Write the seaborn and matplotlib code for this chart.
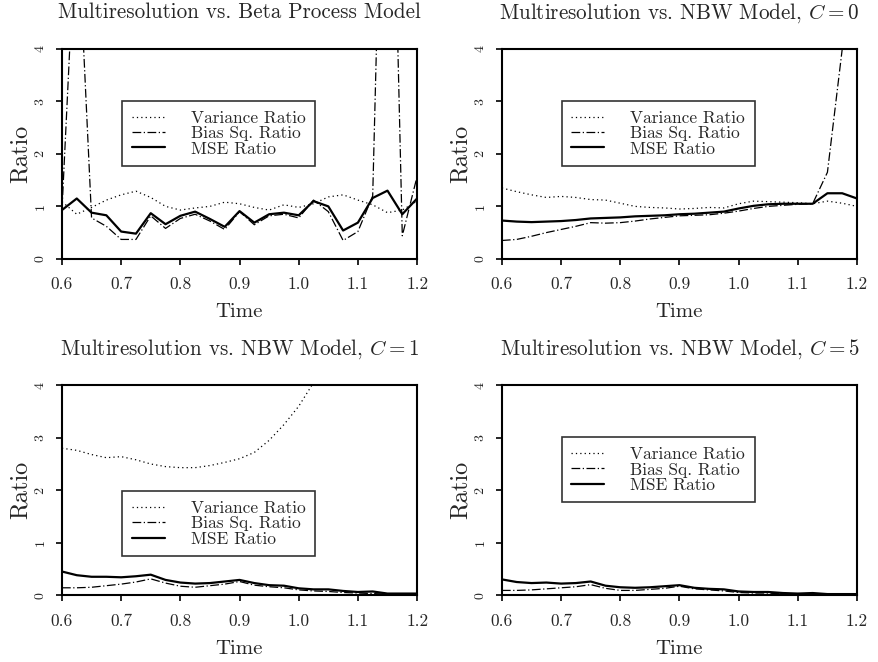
"""
Four-panel ratio plot: Multiresolution vs. Beta Process / NBW models.
Saves out.png (879x662).
"""

import matplotlib
matplotlib.use("Agg")

import matplotlib.pyplot as plt
import numpy as np
import pandas as pd
import seaborn as sns

# --- data ---
time = [0.6, 0.625, 0.65, 0.675, 0.7, 0.725, 0.75, 0.775, 0.8, 0.825, 0.85,
        0.875, 0.9, 0.925, 0.95, 0.975, 1.0, 1.025, 1.05, 1.075, 1.1, 1.125,
        1.15, 1.175, 1.2]

titles = ["Multiresolution vs. Beta Process Model",
          r"Multiresolution vs. NBW Model, $C=0$",
          r"Multiresolution vs. NBW Model, $C=1$",
          r"Multiresolution vs. NBW Model, $C=5$"]

var_beta = [1.09, 0.85, 0.98, 1.12, 1.22, 1.29, 1.17, 1.00, 0.93, 0.97, 1.00,
            1.08, 1.05, 0.98, 0.93, 1.03, 0.98, 1.05, 1.18, 1.22, 1.12, 1.03,
            0.88, 0.93, 1.10]
bias_beta = [0.93, 6.8, 0.78, 0.62, 0.37, 0.37, 0.82, 0.58, 0.77, 0.85, 0.72,
             0.56, 0.90, 0.65, 0.82, 0.85, 0.78, 1.12, 0.90, 0.35, 0.52, 1.20,
             12.4, 0.44, 1.57]
mse_beta = [0.93, 1.15, 0.88, 0.83, 0.52, 0.48, 0.87, 0.66, 0.82, 0.90, 0.76,
            0.61, 0.91, 0.69, 0.85, 0.88, 0.83, 1.10, 1.00, 0.54, 0.69, 1.16,
            1.30, 0.85, 1.15]

var_c0 = [1.35, 1.28, 1.22, 1.17, 1.19, 1.17, 1.13, 1.12, 1.06, 1.00, 0.98,
          0.97, 0.95, 0.96, 0.98, 0.97, 1.05, 1.10, 1.09, 1.08, 1.07, 1.05,
          1.10, 1.06, 1.00]
bias_c0 = [0.35, 0.37, 0.43, 0.50, 0.56, 0.62, 0.69, 0.68, 0.69, 0.72, 0.76,
           0.79, 0.82, 0.83, 0.84, 0.87, 0.91, 0.96, 1.00, 1.02, 1.04, 1.05,
           1.65, 4.00, 6.00]
mse_c0 = [0.73, 0.71, 0.70, 0.71, 0.72, 0.74, 0.77, 0.78, 0.79, 0.81, 0.82,
          0.83, 0.85, 0.86, 0.88, 0.90, 0.96, 1.01, 1.04, 1.05, 1.05, 1.05,
          1.25, 1.25, 1.15]

var_c1 = [2.80, 2.76, 2.68, 2.62, 2.64, 2.58, 2.50, 2.45, 2.43, 2.43, 2.47,
          2.53, 2.60, 2.72, 2.95, 3.25, 3.60, 4.05, 4.80, 5.60, 6.50, 7.40,
          8.40, 9.50, 10.5]
bias_c1 = [0.14, 0.14, 0.15, 0.18, 0.21, 0.25, 0.31, 0.23, 0.17, 0.15, 0.18,
           0.21, 0.26, 0.19, 0.16, 0.14, 0.10, 0.08, 0.07, 0.05, 0.04, 0.03,
           0.02, 0.01, 0.01]
mse_c1 = [0.45, 0.38, 0.35, 0.35, 0.34, 0.36, 0.39, 0.29, 0.24, 0.22, 0.23,
          0.26, 0.29, 0.23, 0.19, 0.18, 0.13, 0.11, 0.11, 0.08, 0.06, 0.07,
          0.03, 0.03, 0.03]

var_c5 = [5.6, 5.3, 5.0, 4.7, 4.5, 4.3, 4.15, 4.05, 4.01, 4.05, 4.2,
          4.4, 4.7, 5.1, 5.6, 6.2, 7.0, 8.0, 9.0, 10.0, 11.0, 12.0,
          13.0, 14.0, 15.0]
bias_c5 = [0.09, 0.09, 0.10, 0.12, 0.14, 0.16, 0.20, 0.13, 0.09, 0.09, 0.11,
           0.13, 0.17, 0.12, 0.10, 0.08, 0.05, 0.04, 0.04, 0.02, 0.02, 0.01,
           0.01, 0.01, 0.01]
mse_c5 = [0.30, 0.25, 0.23, 0.24, 0.22, 0.23, 0.26, 0.18, 0.15, 0.14, 0.15,
          0.17, 0.19, 0.14, 0.12, 0.11, 0.07, 0.06, 0.06, 0.04, 0.03, 0.04,
          0.02, 0.02, 0.02]

panels = [(var_beta, bias_beta, mse_beta), (var_c0, bias_c0, mse_c0),
          (var_c1, bias_c1, mse_c1), (var_c5, bias_c5, mse_c5)]
legend_y = [0.752, 0.752, 0.495, 0.752]  # top of legend box, axes fraction

# --- style: LaTeX-like look ---
sns.set_style("ticks")
plt.rcParams["font.family"] = ["cmr10", "DejaVu Serif"]
plt.rcParams["mathtext.fontset"] = "cm"
plt.rcParams["axes.formatter.use_mathtext"] = True
plt.rcParams["axes.unicode_minus"] = False

fig = plt.figure(figsize=(8.79, 6.62), dpi=100)
boxes = [(0.0705, 0.609), (0.571, 0.609), (0.0705, 0.101), (0.571, 0.101)]

for i, (var, bias, mse) in enumerate(panels):
    ax = fig.add_axes([boxes[i][0], boxes[i][1], 0.404, 0.317])
    df = pd.DataFrame({"Time": time, "var": var, "bias": bias, "mse": mse})

    sns.lineplot(data=df, x="Time", y="var", ax=ax, color="black", lw=0.9,
                 linestyle=(0, (1, 2.5)), label="Variance Ratio")
    sns.lineplot(data=df, x="Time", y="bias", ax=ax, color="black", lw=0.9,
                 linestyle=(0, (7, 2, 1, 2)), label="Bias Sq. Ratio")
    sns.lineplot(data=df, x="Time", y="mse", ax=ax, color="black", lw=1.6,
                 label="MSE Ratio")

    ax.set_xlim(0.6, 1.2)
    ax.set_ylim(0, 4)
    ax.set_xticks(np.arange(0.6, 1.21, 0.1))
    ax.set_xticklabels(["0.6", "0.7", "0.8", "0.9", "1.0", "1.1", "1.2"])
    ax.set_yticks([0, 1, 2, 3, 4])
    ax.set_yticklabels(["0", "1", "2", "3", "4"], rotation=90, va="center")
    ax.tick_params(direction="out", length=4, width=1.2, color="black")
    ax.tick_params(axis="x", pad=9, labelsize=12.5)
    ax.tick_params(axis="y", pad=7, labelsize=10)
    for s in ax.spines.values():
        s.set_visible(True)
        s.set_linewidth(1.5)
        s.set_color("black")

    ax.set_title(titles[i], fontsize=15.2, pad=22)
    ax.set_xlabel("Time", fontsize=15, labelpad=8)
    ax.set_ylabel("Ratio", fontsize=17.5, labelpad=2)

    leg = ax.legend(loc="upper left", bbox_to_anchor=(0.169, legend_y[i]),
                    fancybox=False, frameon=True, edgecolor="black",
                    fontsize=12.5, handlelength=1.9, handletextpad=1.5,
                    borderpad=0.55, labelspacing=0.0, borderaxespad=0)
    leg.get_frame().set_linewidth(1.2)

fig.savefig("out.png", dpi=100)
plt.close(fig)
